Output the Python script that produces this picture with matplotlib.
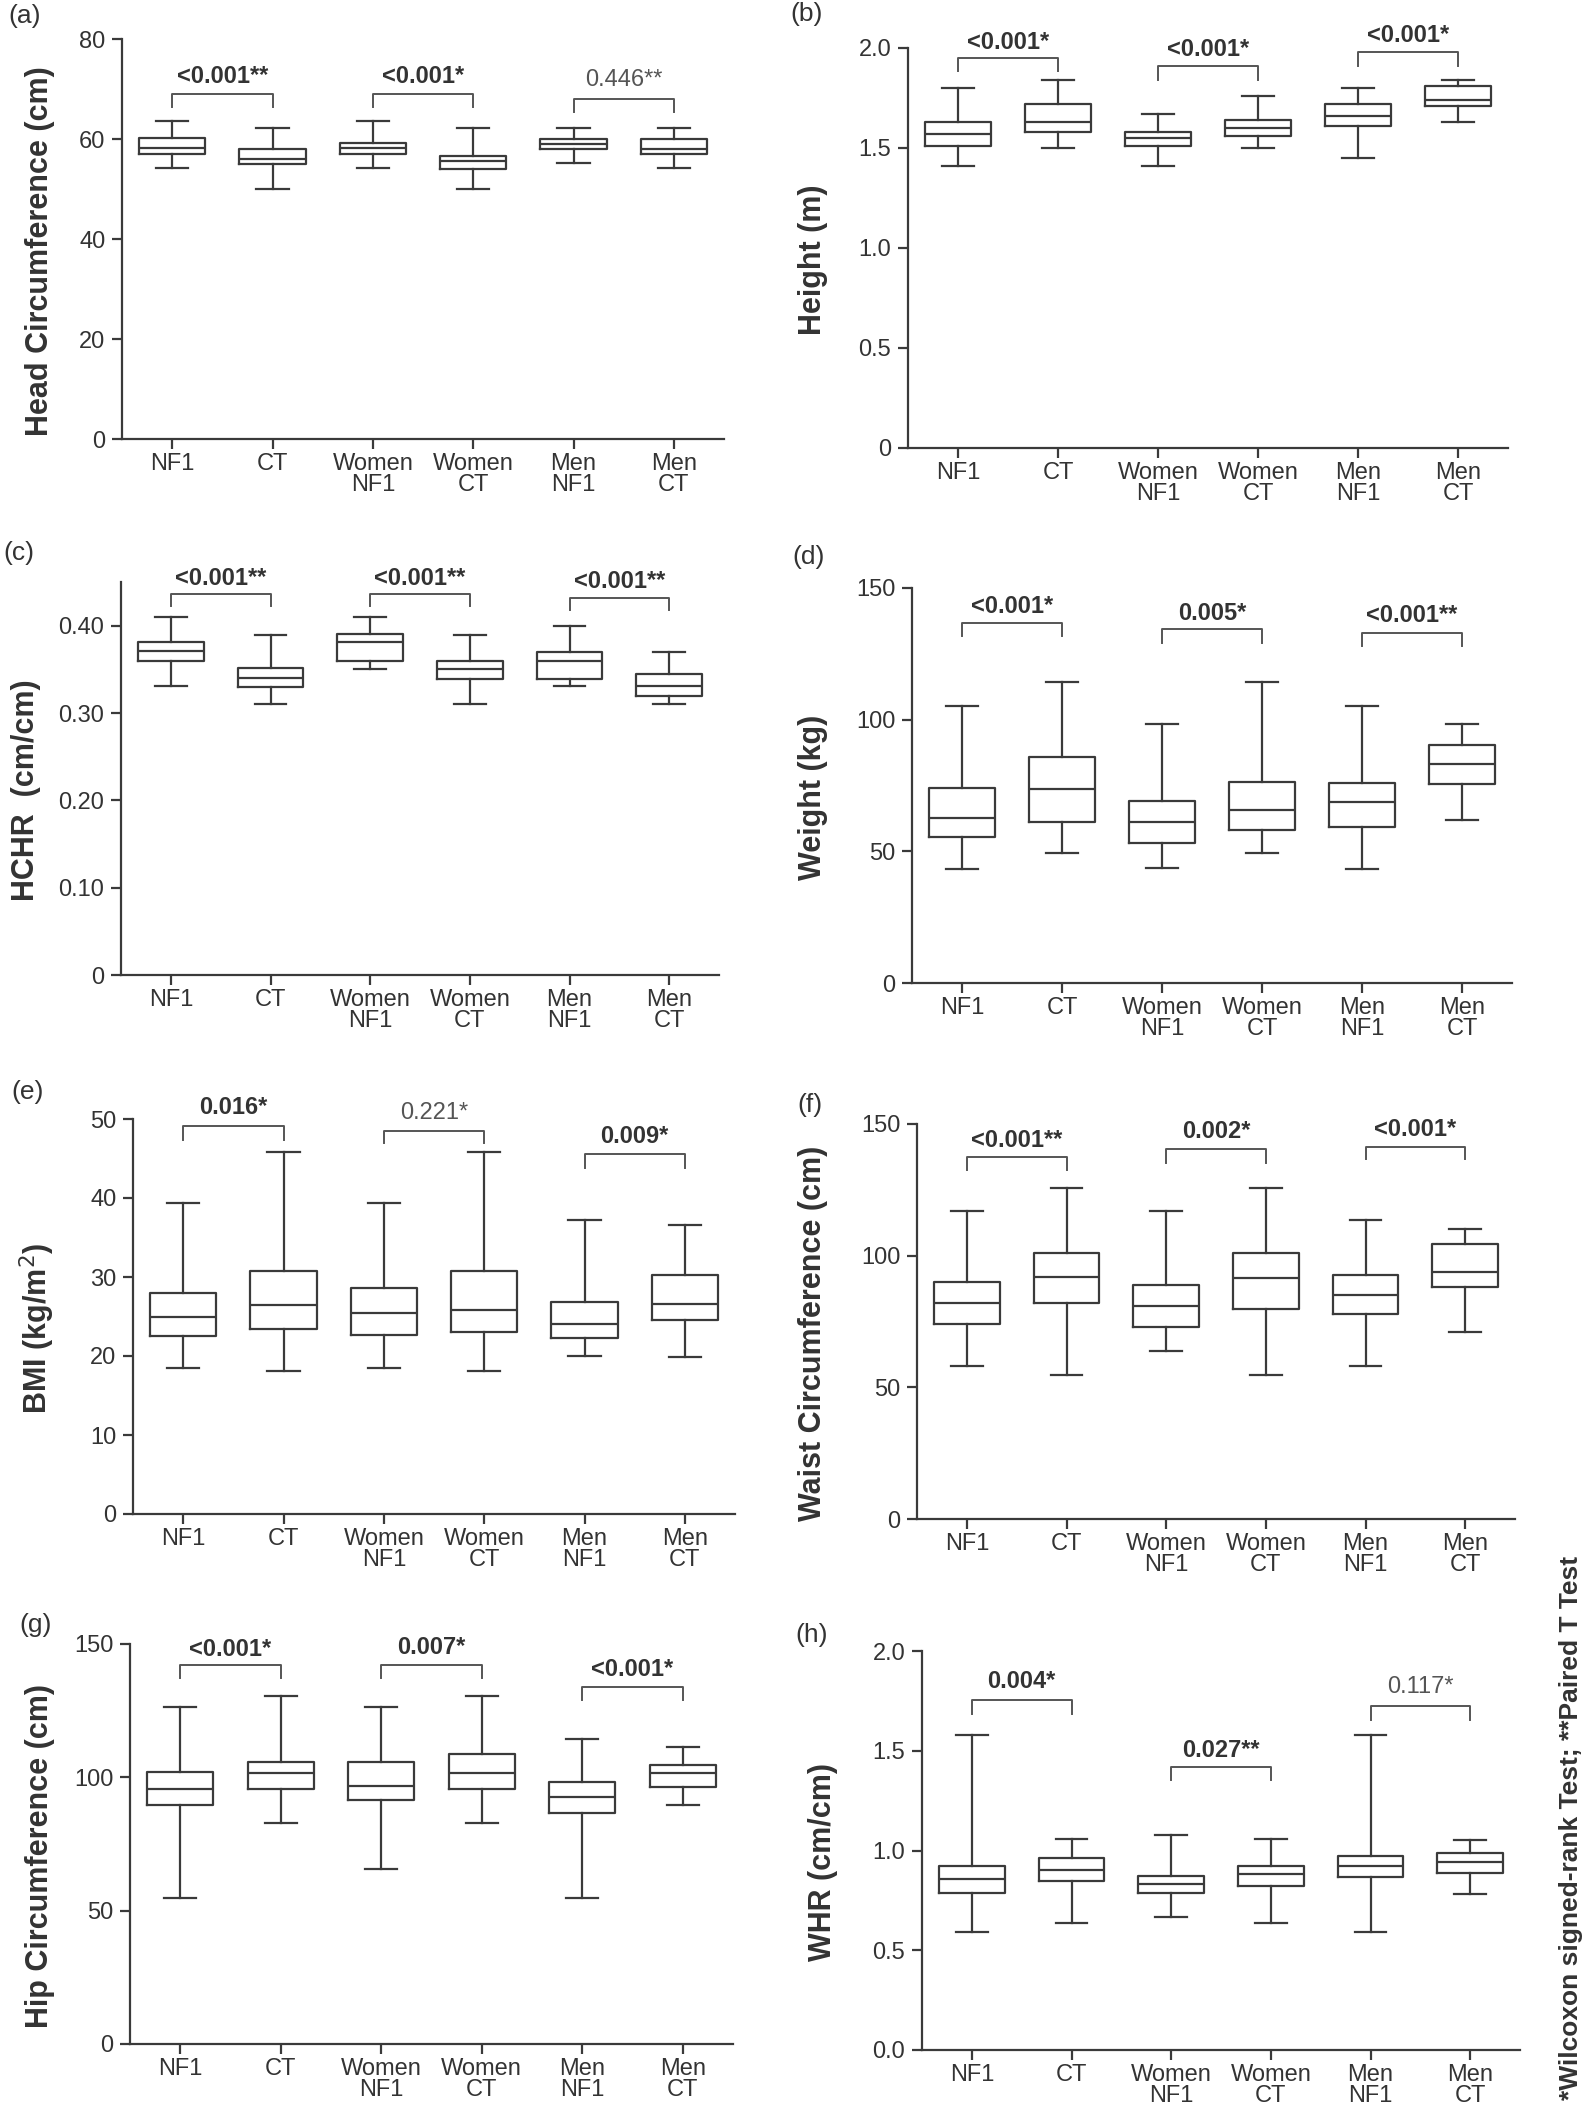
import matplotlib.pyplot as plt

W, H = 1594, 2110
plt.rcParams['font.family'] = ['Liberation Sans', 'DejaVu Sans']

groups = ['NF1', 'CT', 'Women\nNF1', 'Women\nCT', 'Men\nNF1', 'Men\nCT']

# box stats per group: [whisker low, Q1, median, Q3, whisker high]
head = [[54.2, 57.0, 58.2, 60.2, 63.6], [50.1, 55.0, 56.1, 58.1, 62.2],
        [54.2, 57.0, 58.2, 59.2, 63.6], [50.1, 54.0, 55.6, 56.6, 62.2],
        [55.2, 58.0, 59.0, 60.1, 62.2], [54.2, 57.0, 58.0, 60.1, 62.2]]
height = [[1.41, 1.51, 1.57, 1.63, 1.80], [1.50, 1.58, 1.63, 1.72, 1.84],
          [1.41, 1.51, 1.55, 1.58, 1.67], [1.50, 1.56, 1.60, 1.64, 1.76],
          [1.45, 1.61, 1.66, 1.72, 1.80], [1.63, 1.71, 1.74, 1.81, 1.84]]
hchr = [[0.331, 0.360, 0.371, 0.381, 0.410], [0.310, 0.330, 0.340, 0.351, 0.389],
        [0.350, 0.360, 0.381, 0.390, 0.410], [0.310, 0.339, 0.350, 0.360, 0.389],
        [0.331, 0.339, 0.360, 0.370, 0.400], [0.310, 0.320, 0.331, 0.345, 0.370]]
weight = [[43.4, 55.5, 62.5, 73.9, 105.2], [49.4, 61.2, 73.6, 86.0, 114.4],
          [43.6, 53.0, 61.2, 69.2, 98.4], [49.4, 58.1, 65.7, 76.3, 114.4],
          [43.4, 59.1, 68.7, 76.1, 105.2], [61.9, 75.6, 83.2, 90.3, 98.4]]
bmi = [[18.5, 22.5, 24.9, 28.0, 39.4], [18.1, 23.4, 26.4, 30.7, 45.8],
       [18.5, 22.6, 25.5, 28.6, 39.4], [18.1, 23.0, 25.8, 30.8, 45.8],
       [20.0, 22.3, 24.1, 26.8, 37.2], [19.9, 24.5, 26.6, 30.2, 36.6]]
waist = [[58.2, 74.1, 82.2, 90.1, 116.8], [54.7, 82.2, 92.0, 100.9, 125.8],
         [63.9, 73.0, 81.0, 88.9, 116.8], [54.7, 79.9, 91.4, 100.9, 125.8],
         [58.2, 77.8, 84.9, 92.5, 113.5], [70.9, 88.0, 93.9, 104.6, 110.0]]
hip = [[54.6, 89.6, 95.5, 102.0, 126.5], [83.0, 95.5, 101.8, 105.8, 130.5],
       [65.8, 91.5, 96.8, 105.8, 126.5], [83.0, 95.5, 101.8, 108.8, 130.5],
       [54.6, 86.8, 92.8, 98.1, 114.5], [89.6, 96.5, 101.8, 104.8, 111.5]]
whr = [[0.589, 0.788, 0.855, 0.922, 1.581], [0.639, 0.848, 0.902, 0.960, 1.060],
       [0.668, 0.788, 0.831, 0.873, 1.080], [0.639, 0.821, 0.880, 0.922, 1.060],
       [0.589, 0.868, 0.922, 0.972, 1.581], [0.780, 0.885, 0.943, 0.985, 1.052]]

# p-values for NF1 vs CT, Women, Men (bold = significant)
head_p = ['<0.001**', '<0.001*', '0.446**']
height_p = ['<0.001*', '<0.001*', '<0.001*']
hchr_p = ['<0.001**', '<0.001**', '<0.001**']
weight_p = ['<0.001*', '0.005*', '<0.001**']
bmi_p = ['0.016*', '0.221*', '0.009*']
waist_p = ['<0.001**', '0.002*', '<0.001*']
hip_p = ['<0.001*', '0.007*', '<0.001*']
whr_p = ['0.004*', '0.027**', '0.117*']
head_sig = [True, True, False]
bmi_sig = [True, False, True]
whr_sig = [True, True, False]

note = '*Wilcoxon signed-rank Test; **Paired T Test'

LINE = '#3a3a3a'

panels = [
    dict(tag='(a)', tagxy=(8, 4), data=head, p=head_p, sig=head_sig,
         ylabel='Head Circumference (cm)', labx=40, box=(122, 724, 39, 439),
         ylim=80, ticks=[0, 20, 40, 60, 80], tl=['0', '20', '40', '60', '80'],
         br=[(69.0, 66.5, 72.5), (69.0, 66.5, 72.5), (68.1, 65.5, 71.9)]),
    dict(tag='(b)', tagxy=(790, 2), data=height, p=height_p, sig=[True] * 3,
         ylabel='Height (m)', labx=813, box=(908, 1508, 48, 448),
         ylim=2.0, ticks=[0, 0.5, 1.0, 1.5, 2.0], tl=['0', '0.5', '1.0', '1.5', '2.0'],
         br=[(1.95, 1.887, 2.028), (1.912, 1.842, 1.992), (1.978, 1.908, 2.062)]),
    dict(tag='(c)', tagxy=(3, 541), data=hchr, p=hchr_p, sig=[True] * 3,
         ylabel='HCHR  (cm/cm)', labx=26, box=(121, 719, 582, 975),
         ylim=0.45, ticks=[0, 0.1, 0.2, 0.3, 0.4], tl=['0', '0.10', '0.20', '0.30', '0.40'],
         br=[(0.436, 0.423, 0.454), (0.436, 0.423, 0.454), (0.432, 0.418, 0.451)]),
    dict(tag='(d)', tagxy=(792, 545), data=weight, p=weight_p, sig=[True] * 3,
         ylabel='Weight (kg)', labx=813, box=(912, 1512, 588, 983),
         ylim=150, ticks=[0, 50, 100, 150], tl=['0', '50', '100', '150'],
         br=[(136.7, 131.6, 143.0), (134.4, 129.3, 140.5), (132.9, 128.1, 139.5)]),
    dict(tag='(e)', tagxy=(11, 1080), data=bmi, p=bmi_p, sig=bmi_sig,
         ylabel='BMI (kg/m$^2$)', labx=37, box=(133, 735, 1119, 1514),
         ylim=50, ticks=[0, 10, 20, 30, 40, 50], tl=['0', '10', '20', '30', '40', '50'],
         br=[(49.1, 47.4, 51.4), (48.5, 46.9, 50.8), (45.6, 43.8, 47.8)]),
    dict(tag='(f)', tagxy=(797, 1093), data=waist, p=waist_p, sig=[True] * 3,
         ylabel='Waist Circumference (cm)', labx=813, box=(917, 1515, 1124, 1519),
         ylim=150, ticks=[0, 50, 100, 150], tl=['0', '50', '100', '150'],
         br=[(137.3, 132.5, 143.9), (140.4, 135.3, 147.1), (141.4, 136.6, 148.0)]),
    dict(tag='(g)', tagxy=(19, 1613), data=hip, p=hip_p, sig=[True] * 3,
         ylabel='Hip Circumference (cm)', labx=40, box=(130, 733, 1644, 2044),
         ylim=150, ticks=[0, 50, 100, 150], tl=['0', '50', '100', '150'],
         br=[(142.1, 137.1, 147.8), (142.1, 137.1, 148.8), (133.8, 129.0, 140.5)]),
    dict(tag='(h)', tagxy=(795, 1623), data=whr, p=whr_p, sig=whr_sig,
         ylabel='WHR (cm/cm)', labx=823, box=(922, 1520, 1651, 2050),
         ylim=2.0, ticks=[0, 0.5, 1.0, 1.5, 2.0], tl=['0.0', '0.5', '1.0', '1.5', '2.0'],
         br=[(1.756, 1.686, 1.845), (1.419, 1.352, 1.503), (1.723, 1.653, 1.820)]),
]

fig = plt.figure(figsize=(W / 100, H / 100), dpi=100)

for pn in panels:
    l, r, t, b = pn['box']
    ax = fig.add_axes([l / W, 1 - b / H, (r - l) / W, (b - t) / H])
    stats = [dict(whislo=s[0], q1=s[1], med=s[2], q3=s[3], whishi=s[4]) for s in pn['data']]
    lp = dict(color=LINE, linewidth=1.6)
    ax.bxp(stats, positions=range(6), widths=0.66, capwidths=0.32, showfliers=False,
           boxprops=lp, medianprops=lp, whiskerprops=lp, capprops=lp)
    ax.set_xlim(-0.5, 5.5)
    ax.set_ylim(0, pn['ylim'])
    ax.set_yticks(pn['ticks'])
    ax.set_yticklabels(pn['tl'], fontsize=17, color='#333333')
    ax.set_xticks(range(6))
    ax.set_xticklabels(groups, linespacing=0.95, fontsize=17, color='#333333')
    for s in ['top', 'right']:
        ax.spines[s].set_visible(False)
    for s in ['left', 'bottom']:
        ax.spines[s].set_color(LINE)
        ax.spines[s].set_linewidth(1.6)
    ax.tick_params(direction='out', length=7, width=1.6, color=LINE)
    ax.tick_params(axis='x', pad=3)
    ax.tick_params(axis='y', pad=5)

    ax.set_ylabel(pn['ylabel'], fontsize=22, fontweight='bold', color='#333333', va='center')
    ax.yaxis.set_label_coords((pn['labx'] - l) / (r - l), 0.47)

    for k, (hi, lo, ty) in enumerate(pn['br']):
        x1, x2 = 2 * k, 2 * k + 1
        ax.plot([x1, x1, x2, x2], [lo, hi, hi, lo], color='#555555', lw=1.4, clip_on=False)
        ax.text((x1 + x2) / 2, ty, pn['p'][k], ha='center', va='center', fontsize=17,
                fontweight='bold' if pn['sig'][k] else 'normal',
                color='#333333' if pn['sig'][k] else '#555555', clip_on=False)

    fig.text(pn['tagxy'][0] / W, 1 - pn['tagxy'][1] / H, pn['tag'], ha='left', va='top',
             fontsize=19, color='#333333')

fig.text(1571 / W, 1 - 1828 / H, note, rotation=90, ha='center', va='center',
         fontsize=19, fontweight='bold', color='#333333')

fig.savefig('out.png', dpi=100, facecolor='white')
